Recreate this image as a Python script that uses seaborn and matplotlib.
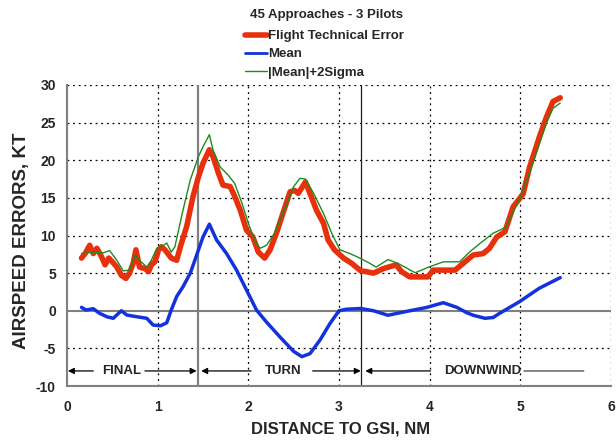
import matplotlib
matplotlib.use("Agg")
import matplotlib.pyplot as plt
import seaborn as sns
import numpy as np
import pandas as pd
from matplotlib.lines import Line2D

# ---------------- data ----------------
fte_x = [0.16, 0.20, 0.25, 0.29, 0.33, 0.38, 0.42, 0.46, 0.50, 0.55, 0.60, 0.65, 0.69, 0.73, 0.76,
         0.80, 0.86, 0.90, 0.93, 0.97, 1.01, 1.04, 1.08, 1.15, 1.21, 1.25, 1.32, 1.39, 1.45, 1.50,
         1.57, 1.61, 1.67, 1.72, 1.80, 1.85, 1.91, 1.98, 2.05, 2.11, 2.18, 2.24, 2.31, 2.38, 2.46,
         2.51, 2.55, 2.63, 2.68, 2.75, 2.83, 2.88, 2.95, 3.05, 3.14, 3.24, 3.30, 3.38, 3.49, 3.63,
         3.69, 3.78, 3.89, 3.98, 4.04, 4.15, 4.28, 4.37, 4.48, 4.59, 4.66, 4.74, 4.83, 4.92, 5.03,
         5.10, 5.21, 5.29, 5.36, 5.44]
fte_y = [7.0, 7.6, 8.7, 7.6, 8.3, 7.2, 6.1, 7.0, 6.5, 5.8, 4.7, 4.3, 5.0, 6.3, 8.1,
         5.8, 5.6, 5.2, 6.1, 6.5, 8.1, 8.5, 8.1, 7.0, 6.7, 8.5, 11.2, 15.2, 17.8, 19.6,
         21.4, 20.5, 18.3, 16.7, 16.5, 15.2, 13.4, 10.7, 9.8, 7.8, 7.0, 8.1, 10.3, 12.9, 15.8,
         16.0, 15.6, 17.1, 15.6, 13.4, 11.6, 9.4, 8.1, 7.0, 6.3, 5.3, 5.2, 5.0, 5.6, 6.1,
         5.2, 4.5, 4.5, 4.5, 5.4, 5.4, 5.4, 6.3, 7.4, 7.6, 8.3, 9.8, 10.5, 13.8, 15.5,
         19.0, 23.1, 25.8, 27.8, 28.3]

mean_x = [0.16, 0.21, 0.29, 0.36, 0.44, 0.51, 0.60, 0.66, 0.77, 0.88, 0.95, 1.03, 1.10, 1.15,
          1.21, 1.28, 1.36, 1.43, 1.50, 1.57, 1.65, 1.76, 1.87, 1.98, 2.09, 2.20, 2.35, 2.50,
          2.59, 2.68, 2.79, 2.90, 3.00, 3.08, 3.24, 3.38, 3.54, 3.74, 3.97, 4.15, 4.30, 4.41,
          4.48, 4.61, 4.70, 4.77, 4.99, 5.21, 5.44]
mean_y = [0.45, 0.1, 0.27, -0.35, -0.8, -1.0, 0.0, -0.57, -0.8, -1.0, -1.9, -2.0, -1.6, 0.1,
          1.9, 3.2, 5.0, 7.4, 9.8, 11.5, 9.4, 7.6, 5.4, 2.75, 0.1, -1.5, -3.5, -5.4,
          -6.1, -5.7, -3.9, -1.7, 0.0, 0.2, 0.3, 0.0, -0.6, -0.1, 0.45, 1.07, 0.45, -0.26,
          -0.6, -1.0, -0.9, -0.35, 1.2, 3.0, 4.4]

sig_x = [0.16, 0.29, 0.40, 0.47, 0.55, 0.62, 0.69, 0.75, 0.80, 0.88, 0.93, 0.99, 1.04, 1.10,
         1.15, 1.19, 1.23, 1.28, 1.36, 1.45, 1.50, 1.57, 1.61, 1.69, 1.78, 1.85, 1.93, 2.00,
         2.07, 2.13, 2.20, 2.29, 2.38, 2.50, 2.57, 2.63, 2.72, 2.83, 2.92, 3.01, 3.12, 3.23,
         3.34, 3.41, 3.54, 3.65, 3.84, 4.00, 4.15, 4.33, 4.44, 4.55, 4.70, 4.84, 4.99, 5.10,
         5.21, 5.29, 5.36, 5.44]
sig_y = [7.6, 7.8, 7.7, 8.0, 6.7, 5.3, 5.4, 7.4, 6.7, 5.8, 6.7, 8.3, 8.5, 9.0,
         7.8, 8.5, 10.7, 13.4, 17.4, 20.5, 21.8, 23.4, 21.4, 19.1, 18.0, 16.9, 14.3, 11.6,
         9.4, 8.3, 8.7, 10.3, 12.9, 16.5, 17.6, 17.5, 15.6, 12.9, 10.3, 8.1, 7.6, 7.0,
         6.3, 5.8, 6.8, 6.3, 5.05, 5.85, 6.5, 6.5, 7.8, 8.9, 10.3, 11.1, 14.8, 18.3,
         22.2, 25.0, 26.9, 27.6]

x_ticks = [0, 1, 2, 3, 4, 5, 6]
y_ticks = [-10, -5, 0, 5, 10, 15, 20, 25, 30]
phase_bounds = [1.44, 3.24]
phases = ["FINAL", "TURN", "DOWNWIND"]
series_names = ["Flight Technical Error", "Mean", "|Mean|+2Sigma"]

# ---------------- styling ----------------
sns.set_theme(style="white")
plt.rcParams['font.family'] = ['Liberation Sans', 'DejaVu Sans']
plt.rcParams['font.weight'] = 'bold'

RED = "#E8300C"
BLUE = "#1332DC"
GREEN = "#1E8A1E"

fig = plt.figure(figsize=(6.16, 4.41), dpi=100)
ax = fig.add_axes([67/616, 1-386/441, (611-67)/616, (386-85)/441])

df_fte = pd.DataFrame({"x": fte_x, "y": fte_y})
df_mean = pd.DataFrame({"x": mean_x, "y": mean_y})
df_sig = pd.DataFrame({"x": sig_x, "y": sig_y})

# grid
for xt in x_ticks[1:]:
    ax.axvline(xt, color="black", lw=0.9, ls=(0, (1.5, 3)), zorder=1)
for yt in y_ticks[1:]:
    if yt != 0:
        ax.axhline(yt, color="black", lw=0.9, ls=(0, (1.5, 3)), zorder=1)
ax.axhline(0, color="#808080", lw=1.5, zorder=1)
ax.axvline(phase_bounds[0], color="#808080", lw=1.6, zorder=1)
ax.axvline(phase_bounds[1], color="#202020", lw=0.9, zorder=1)

sns.lineplot(data=df_fte, x="x", y="y", ax=ax, color=RED, lw=4.0, sort=False,
             estimator=None, zorder=4)
sns.lineplot(data=df_mean, x="x", y="y", ax=ax, color=BLUE, lw=2.5, sort=False,
             estimator=None, zorder=3)
sns.lineplot(data=df_sig, x="x", y="y", ax=ax, color=GREEN, lw=1.0, sort=False,
             estimator=None, zorder=5)

ax.set_xlim(0, 6)
ax.set_ylim(-10, 30)
ax.set_xticks(x_ticks)
ax.set_yticks(y_ticks)
ax.set_xticklabels([str(v) for v in x_ticks], fontsize=10, fontweight="bold")
ax.set_yticklabels([str(v) for v in y_ticks], fontsize=10, fontweight="bold")
ax.tick_params(axis="both", direction="out", length=4, width=1, color="#808080", pad=6)
ax.tick_params(axis="y", pad=4)

for s in ["top", "right"]:
    ax.spines[s].set_visible(False)
for s in ["left", "bottom"]:
    ax.spines[s].set_color("#808080")
    ax.spines[s].set_linewidth(1.5)

ax.set_xlabel("DISTANCE TO GSI, NM", fontsize=12, fontweight="bold")
ax.set_ylabel("AIRSPEED ERRORS, KT", fontsize=13.5, fontweight="bold")
ax.xaxis.set_label_coords((341-67)/544, (386-422)/301)
ax.yaxis.set_label_coords((30-67)/544, (386-241)/301)

# phase annotations
ya = -8.0
arrow_kw = dict(arrowstyle="-|>", color="black", lw=0.9, mutation_scale=9, shrinkA=0, shrinkB=0)
line_kw = dict(arrowstyle="-", color="#404040", lw=0.9, shrinkA=0, shrinkB=0)
segs = [
    ("FINAL", 0.60, 0.01, 0.29, 0.86, 1.43, True),
    ("TURN", 2.38, 1.48, 2.03, 2.71, 3.24, True),
    ("DOWNWIND", 4.58, 3.29, 4.01, 5.04, 5.70, False),
]
for txt, xc, l0, l1, r0, r1, rarrow in segs:
    ax.annotate("", xy=(l0, ya), xytext=(l1, ya), arrowprops=arrow_kw)
    ax.annotate("", xy=(r1, ya), xytext=(r0, ya), arrowprops=arrow_kw if rarrow else line_kw)
    ax.text(xc, ya, txt, ha="center", va="center", fontsize=9.5, fontweight="bold")

# title & legend
fig.text(326.5/616, 1-15/441, "45 Approaches - 3 Pilots", ha="center", va="center",
         fontsize=9.5, fontweight="bold")
handles = [Line2D([], [], color=RED, lw=4.0),
           Line2D([], [], color=BLUE, lw=2.0),
           Line2D([], [], color=GREEN, lw=1.0)]
fig.legend(handles, series_names, loc="upper left", bbox_to_anchor=(245/616, 1-30/441),
           frameon=False, handlelength=1.65, handletextpad=0.1, labelspacing=0.45,
           borderaxespad=0, borderpad=0, prop=dict(size=9.5, weight="bold"))

fig.savefig("out.png", dpi=100)
